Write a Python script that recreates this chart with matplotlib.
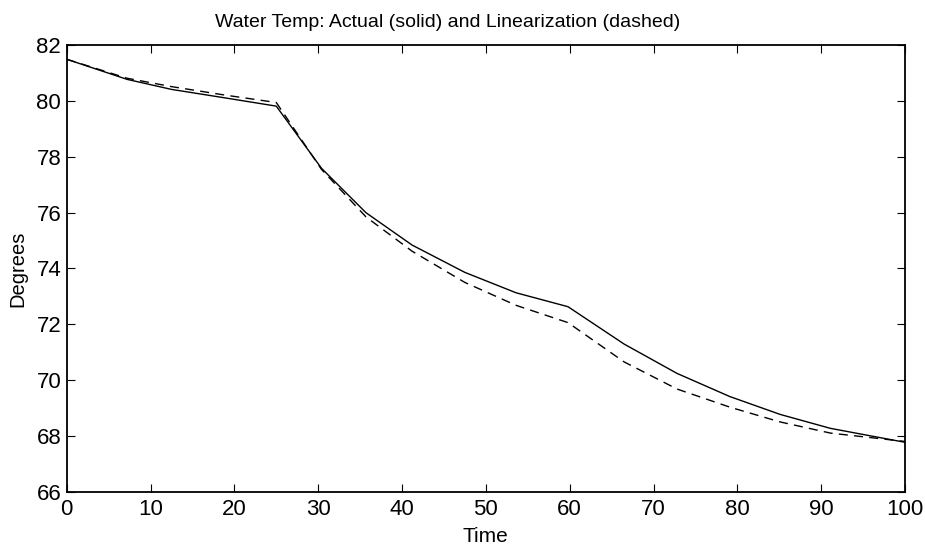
import matplotlib
matplotlib.use("Agg")
import matplotlib.pyplot as plt

# values
t = [0, 7.2, 12.5, 18.8, 25.0, 30.4, 35.7, 41.2, 47.5, 53.6, 59.8, 66.5, 72.8, 79.1, 85.1, 91.1, 100]
actual = [81.5, 80.78, 80.42, 80.12, 79.82, 77.59, 76.0, 74.84, 73.86, 73.13, 72.63,
          71.29, 70.24, 69.41, 68.77, 68.27, 67.77]
linear = [81.5, 80.82, 80.52, 80.22, 79.95, 77.55, 75.85, 74.62, 73.5, 72.68, 72.06,
          70.65, 69.68, 69.03, 68.5, 68.1, 67.8]

xticks = [0, 10, 20, 30, 40, 50, 60, 70, 80, 90, 100]
yticks = [66, 68, 70, 72, 74, 76, 78, 80, 82]

plt.rcParams['font.family'] = ['Liberation Sans', 'DejaVu Sans']

fig = plt.figure(figsize=(9.25, 5.46), dpi=100)
ax = fig.add_axes([0.0721, 0.0995, 0.9063, 0.8175])

ax.plot(t, actual, color="black", linewidth=1.0)
ax.plot(t, linear, color="black", linewidth=1.0, linestyle=(0, (6.5, 4.5)))

ax.set_xlim(0, 100)
ax.set_ylim(66, 82)
ax.set_xticks(xticks)
ax.set_yticks(yticks)

ax.tick_params(direction="in", length=6, width=0.8, top=True, right=True, labelsize=16)
ax.tick_params(axis="x", pad=5)
ax.tick_params(axis="y", pad=4)
for s in ax.spines.values():
    s.set_linewidth(1.3)

# title sits a bit left of centre in the reference
ax.text(0.454, 1.0417, "Water Temp: Actual (solid) and Linearization (dashed)",
        transform=ax.transAxes, ha="center", va="baseline", fontsize=14)

ax.set_xlabel("Time", fontsize=15)
ax.xaxis.label.set_va("baseline")
ax.xaxis.set_label_coords(0.5, -0.112)

ax.set_ylabel("Degrees", fontsize=14.5)
ax.yaxis.set_label_coords(-0.0474, 0.5)

fig.savefig("out.png", dpi=100)
